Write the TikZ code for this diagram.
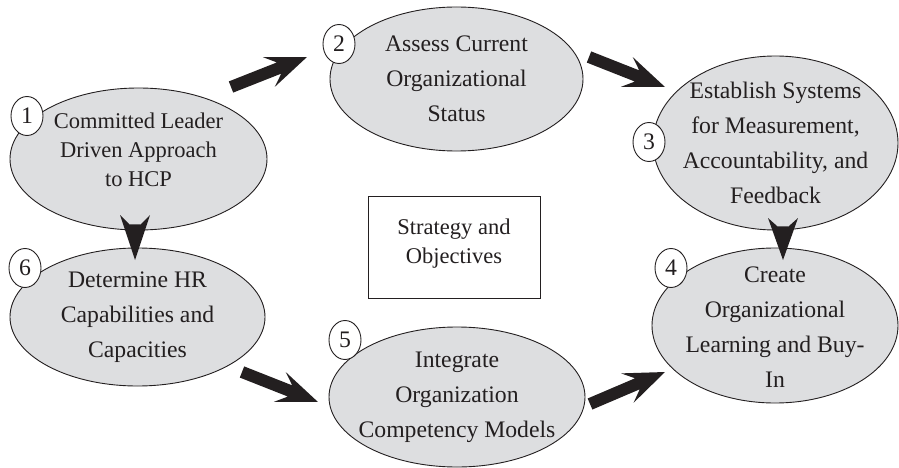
\documentclass[tikz,border=0pt]{standalone}
\usepackage{fontspec}
\setmainfont{Liberation Serif}
\usetikzlibrary{shapes.geometric,calc}
\definecolor{ellfill}{RGB}{221,222,224}
\definecolor{ink}{RGB}{35,31,32}

% block arrow: tail, tip, shaft half width, notch back, wing back, wing half width
\newcommand\blockarr[6]{%
  \path let \p1=(#1), \p2=(#2) in \pgfextra{%
    \pgfmathsetmacro\arrang{atan2(\y2-\y1,\x2-\x1)}%
    \pgfmathsetmacro\arrlen{veclen(\x2-\x1,\y2-\y1)}%
    \global\let\arrang\arrang \global\let\arrlen\arrlen};
  \fill[ink, shift={(#1)}, rotate=\arrang]
    (0pt,#3pt) -- (\arrlen pt-#4pt,#3pt) -- (\arrlen pt-#5pt,#6pt) -- (\arrlen pt,0pt)
    -- (\arrlen pt-#5pt,-#6pt) -- (\arrlen pt-#4pt,-#3pt) -- (0pt,-#3pt) -- cycle;
}

\begin{document}
\begin{tikzpicture}[x=1pt,y=-1pt,
  ell/.style={ellipse, draw=ink, line width=0.9pt, fill=ellfill, inner sep=0pt},
  txt/.style={align=center, text=ink, inner sep=0pt, font=\fontsize{23.7}{35}\selectfont},
  txtsmall/.style={align=center, text=ink, inner sep=0pt, font=\fontsize{22.5}{29}\selectfont},
  num/.style={ellipse, draw=ink, line width=0.9pt, fill=white, minimum width=32pt,
    minimum height=39pt, inner sep=0pt, text=ink, font=\fontsize{23.7}{28}\selectfont},
  boxstyle/.style={draw=ink, line width=0.9pt, fill=white, minimum width=172pt, minimum height=102pt, inner sep=0pt}]
\useasboundingbox (0,0) rectangle (899,468);

% ellipses
\node[ell, minimum width=257pt, minimum height=142pt] (e1) at (138.5,159) {};
\node[ell, minimum width=253pt, minimum height=144pt] (e2) at (456.5,79) {};
\node[ell, minimum width=245pt, minimum height=174pt] (e3) at (775.5,143) {};
\node[ell, minimum width=246pt, minimum height=155pt] (e4) at (775,325.5) {};
\node[ell, minimum width=256pt, minimum height=140pt] (e5) at (457,397) {};
\node[ell, minimum width=255pt, minimum height=138pt] (e6) at (137.5,317) {};

% texts
\node[txtsmall] (t1) at ($(e1)+(0,-9)$) {Committed Leader\\Driven Approach\\to HCP};
\node[txt] (t2) at (e2) {Assess Current\\Organizational\\Status};
\node[txt] (t3) at (e3) {Establish Systems\\for Measurement,\\Accountability, and\\Feedback};
\node[txt] (t4) at ($(e4)+(0,2)$) {Create\\Organizational\\Learning and Buy-\\In};
\node[txt] (t5) at (e5) {Integrate\\Organization\\Competency Models};
\node[txt] (t6) at (e6) {Determine HR\\Capabilities and\\Capacities};

% centre box
\node[boxstyle] (box) at (454,247) {};
\node[txtsmall] (tb) at ($(box)+(0,-3.5)$) {Strategy and\\Objectives};

% arrow end points
\coordinate (a12s) at (231,87);   \coordinate (a12e) at (307,57);
\coordinate (a23s) at (589,57);   \coordinate (a23e) at (665,87);
\coordinate (a34s) at ($(e3.south)+(7.5,-4)$);  \coordinate (a34e) at (783,260);
\coordinate (a54s) at (590,404);  \coordinate (a54e) at (665,372);
\coordinate (a65s) at (242,372);  \coordinate (a65e) at (318,402);
\coordinate (a16s) at ($(e1.south)+(-3.5,-6)$); \coordinate (a16e) at (135,260);

\blockarr{a12s}{a12e}{6}{30}{41}{16}
\blockarr{a23s}{a23e}{6}{30}{41}{16}
\blockarr{a54s}{a54e}{6}{30}{41}{16}
\blockarr{a65s}{a65e}{6}{30}{41}{16}
\blockarr{a16s}{a16e}{6}{36}{45}{15}
\blockarr{a34s}{a34e}{6}{34}{42}{15}

% number circles
\node[num] (n1) at (27,116) {1};
\node[num] (n2) at (339,44) {2};
\node[num] (n3) at (649,142) {3};
\node[num] (n4) at (671,268) {4};
\node[num] (n5) at (345,340) {5};
\node[num] (n6) at (25,268) {6};
\end{tikzpicture}
\end{document}
